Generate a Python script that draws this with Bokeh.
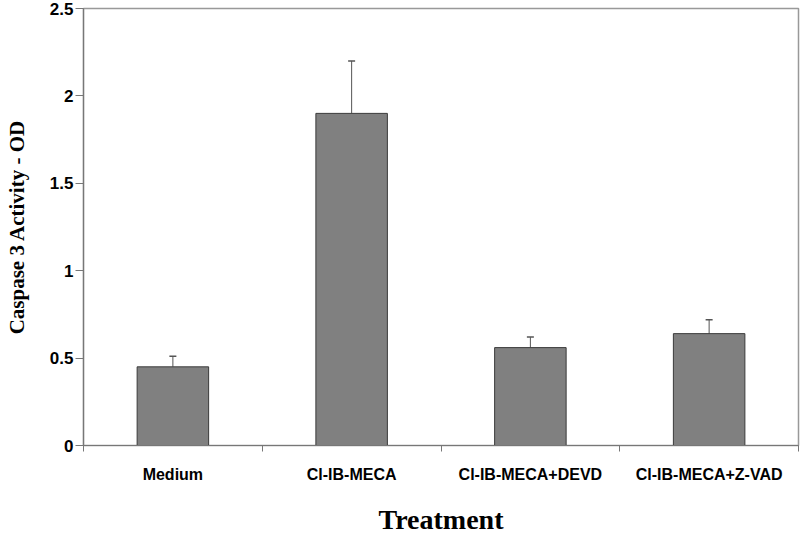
from bokeh.plotting import figure
from bokeh.models import ColumnDataSource, FixedTicker, PrintfTickFormatter, Whisker, TeeHead, Range1d
from bokeh.embed import file_html
from bokeh.resources import INLINE

categories = ["Medium", "Cl-IB-MECA", "Cl-IB-MECA+DEVD", "Cl-IB-MECA+Z-VAD"]
values = [0.45, 1.90, 0.56, 0.64]
errors = [0.06, 0.30, 0.06, 0.08]
y_ticks = [0, 0.5, 1, 1.5, 2, 2.5]

xs = [i + 0.5 for i in range(len(categories))]
src = ColumnDataSource(dict(
    x=xs, top=values,
    upper=[v + e for v, e in zip(values, errors)],
))

p = figure(width=800, height=537, output_backend="svg", toolbar_location=None,
           x_range=Range1d(0, len(categories)), y_range=Range1d(0, 2.5),
           min_border_left=83, min_border_right=2, min_border_top=8, min_border_bottom=92)

p.vbar(x="x", top="top", width=0.4, bottom=0, source=src,
       fill_color="#808080", line_color="#3a3a3a", line_width=1)

w = Whisker(source=src, base="x", lower="top", upper="upper",
            line_color="#555555", line_width=1,
            upper_head=TeeHead(size=7, line_color="#555555", line_width=1.5),
            lower_head=None)
p.add_layout(w)

p.grid.visible = False
p.outline_line_color = "#999999"
p.outline_line_width = 1.5
p.background_fill_color = "white"
p.border_fill_color = "white"

# x axis: ticks at category boundaries, labels at centers
xa = p.xaxis[0]
xa.ticker = FixedTicker(ticks=xs, minor_ticks=list(range(len(categories) + 1)))
xa.major_label_overrides = {x: c for x, c in zip(xs, categories)}
xa.major_tick_line_color = None
xa.minor_tick_line_color = "#777777"
xa.minor_tick_out = 6
xa.minor_tick_in = 0
xa.axis_line_color = "#777777"
xa.axis_line_width = 1.2
xa.major_label_text_font = "Liberation Sans"
xa.major_label_text_font_style = "bold"
xa.major_label_text_font_size = "16px"
xa.major_label_text_color = "black"
xa.major_label_standoff = 14
xa.axis_label = "Treatment"
xa.axis_label_text_font = "Liberation Serif"
xa.axis_label_text_font_style = "bold"
xa.axis_label_text_font_size = "28px"
xa.axis_label_text_color = "black"
xa.axis_label_standoff = 18

ya = p.yaxis[0]
ya.ticker = FixedTicker(ticks=y_ticks, minor_ticks=[])
ya.formatter = PrintfTickFormatter(format="%g")
ya.major_tick_line_color = "#777777"
ya.major_tick_out = 8
ya.major_tick_in = 0
ya.minor_tick_line_color = None
ya.axis_line_color = "#777777"
ya.axis_line_width = 1.2
ya.major_label_text_font = "Liberation Sans"
ya.major_label_text_font_style = "bold"
ya.major_label_text_font_size = "17px"
ya.major_label_text_color = "black"
ya.major_label_standoff = 2
ya.axis_label = "Caspase 3 Activity - OD"
ya.axis_label_text_font = "Liberation Serif"
ya.axis_label_text_font_style = "bold"
ya.axis_label_text_font_size = "21px"
ya.axis_label_text_color = "black"
ya.axis_label_standoff = 18

open("out.html", "w").write(file_html(p, INLINE))
